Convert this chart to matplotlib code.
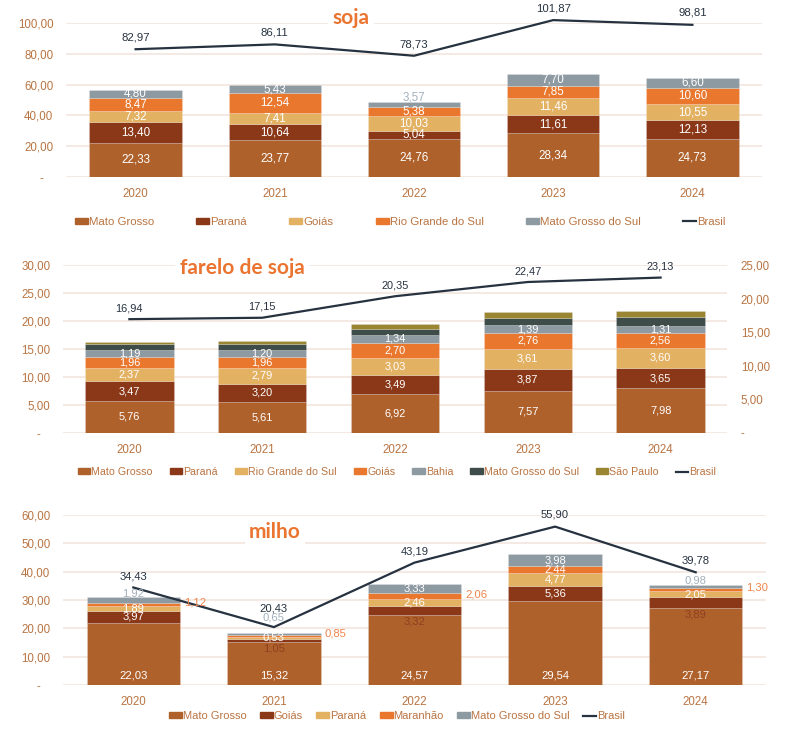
import numpy as np
import matplotlib
matplotlib.use('Agg')
import matplotlib.pyplot as plt
from matplotlib.lines import Line2D
from matplotlib.patches import Patch

plt.rcParams['font.family'] = ['Liberation Sans', 'DejaVu Sans']

years = ['2020', '2021', '2022', '2023', '2024']

# soja
soja_states = ['Mato Grosso', 'Paraná', 'Goiás', 'Rio Grande do Sul', 'Mato Grosso do Sul']
soja_mt = [22.33, 23.77, 24.76, 28.34, 24.73]
soja_pr = [13.40, 10.64, 5.04, 11.61, 12.13]
soja_go = [7.32, 7.41, 10.03, 11.46, 10.55]
soja_rs = [8.47, 12.54, 5.38, 7.85, 10.60]
soja_ms = [4.80, 5.43, 3.57, 7.70, 6.60]
soja_brasil = [82.97, 86.11, 78.73, 101.87, 98.81]

farelo_states = ['Mato Grosso', 'Paraná', 'Rio Grande do Sul', 'Goiás', 'Bahia',
                 'Mato Grosso do Sul', 'São Paulo']
farelo_mt = [5.76, 5.61, 6.92, 7.57, 7.98]
farelo_pr = [3.47, 3.20, 3.49, 3.87, 3.65]
farelo_rs = [2.37, 2.79, 3.03, 3.61, 3.60]
farelo_go = [1.96, 1.96, 2.70, 2.76, 2.56]
farelo_ba = [1.19, 1.20, 1.34, 1.39, 1.31]
farelo_ms = [1.10, 1.05, 1.10, 1.35, 1.65]
farelo_sp = [0.40, 0.55, 0.90, 1.00, 1.10]
farelo_brasil = [16.94, 17.15, 20.35, 22.47, 23.13]

# milho
milho_states = ['Mato Grosso', 'Goiás', 'Paraná', 'Maranhão', 'Mato Grosso do Sul']
milho_mt = [22.03, 15.32, 24.57, 29.54, 27.17]
milho_go = [3.97, 1.05, 3.32, 5.36, 3.89]
milho_pr = [1.89, 0.53, 2.46, 4.77, 2.05]
milho_ma = [1.12, 0.85, 2.06, 2.44, 1.30]
milho_ms = [1.92, 0.65, 3.33, 3.98, 0.98]
milho_brasil = [34.43, 20.43, 43.19, 55.90, 39.78]

# colours
MT = '#AF612B'
DK = '#8A3818'
TAN = '#E3B162'
ORG = '#E9772D'
GRY = '#8E9AA2'
SLT = '#3F4D4A'
OLV = '#9A8532'
NAVY = '#263240'
TXT = '#B97442'
GRID = '#F3E7E0'
TITLE = '#EA7430'

W = 0.665
TICK = 8.3


def fmt(v):
    return f'{v:.2f}'.replace('.', ',')


def yfmt(v, pos):
    return '-   ' if v == 0 else fmt(v)


# label modes: c=centre, i=inside base, b=below base (brown), r=right (orange),
# g/G=above top (grey), n=none
def put_label(ax, xi, b, v, m, fs):
    top = b + v
    kw = dict(textcoords='offset pixels', fontsize=fs, va='center', ha='center',
              zorder=5, annotation_clip=False)
    if m == 'c':
        ax.annotate(fmt(v), (xi, b + v / 2), xytext=(0, 0), color='white', **kw)
    elif m == 'i':
        ax.annotate(fmt(v), (xi, b), xytext=(0, 10), color='white', **kw)
    elif m == 'b':
        ax.annotate(fmt(v), (xi, b), xytext=(0, -6.5), color='#8E4020', **kw)
    elif m == 'r':
        kw['ha'] = 'left'
        ax.annotate(fmt(v), (xi + W / 2, b + v / 2), xytext=(4, 2), color='#F0834A', **kw)
    elif m == 'g':
        ax.annotate(fmt(v), (xi, top), xytext=(0, 4), color='#A3B0BC', **kw)
    elif m == 'G':
        ax.annotate(fmt(v), (xi, top), xytext=(0, 15), color='#A3B0BC', **kw)


def panel(ax, series, colors, modes, ymax, step, fs):
    x = np.arange(len(years))
    bottom = np.zeros(len(years))
    for vals, c, md in zip(series, colors, modes):
        vals = np.array(vals)
        ax.bar(x, vals, W, bottom=bottom, color=c, zorder=2,
               edgecolor=(1, 1, 1, 0.25), linewidth=0.5)
        for i in range(len(x)):
            put_label(ax, x[i], bottom[i], vals[i], md[i], fs)
        bottom += vals
    ax.set_xlim(-0.5, 4.5)
    ax.set_ylim(0, ymax)
    ax.set_yticks(np.arange(0, ymax + 0.01, step))
    ax.yaxis.set_major_formatter(plt.FuncFormatter(yfmt))
    ax.set_xticks(x)
    ax.set_xticklabels(years)
    ax.tick_params(length=0, colors=TXT, labelsize=TICK)
    ax.tick_params(axis='y', pad=9)
    ax.tick_params(axis='x', pad=8)
    ax.grid(axis='y', color=GRID, lw=1.3, zorder=0)
    ax.set_axisbelow(True)
    for s in ax.spines.values():
        s.set_visible(False)


def brasil_line(ax, vals, offs, fs):
    x = np.arange(len(years))
    ax.plot(x, vals, color=NAVY, lw=1.6, zorder=4, clip_on=False)
    for xi, v, o in zip(x, vals, offs):
        ax.annotate(fmt(v), (xi, v), xytext=(0, o), textcoords='offset pixels',
                    ha='center', va='center', fontsize=fs, color=NAVY, zorder=6,
                    annotation_clip=False)


def add_legend(fig, states, colors, cx, cy, cs, fs):
    h = [Patch(color=c) for c in colors] + [Line2D([0], [0], color=NAVY, lw=1.6)]
    fig.legend(h, states + ['Brasil'], loc='center', bbox_to_anchor=(cx, cy),
               ncol=len(h), frameon=False, handlelength=1.15, handleheight=0.45,
               handletextpad=0.1, columnspacing=cs, fontsize=fs, labelcolor=TXT,
               borderaxespad=0, borderpad=0)


fig = plt.figure(figsize=(7.9, 7.39), dpi=100)
FW, FH = 790, 739


def rect(l, r, t, b):
    return [l / FW, 1 - b / FH, (r - l) / FW, (b - t) / FH]


def title(x, y, s):
    fig.text(x / FW, 1 - y / FH, s, ha='center', va='center', fontsize=15,
             fontweight='bold', family='Lato', color=TITLE,
             bbox=dict(fc='white', ec='none', pad=3), zorder=10)


# soja
ax1 = fig.add_axes(rect(66, 762, 23, 177))
panel(ax1, [soja_mt, soja_pr, soja_go, soja_rs, soja_ms],
      [MT, DK, TAN, ORG, GRY],
      ['ccccc', 'ccccc', 'ccccc', 'ccccc', 'ccgcc'], 100, 20, 8.4)
brasil_line(ax1, soja_brasil, [12, 12, 11, 12, 12], 8.2)
add_legend(fig, soja_states, [MT, DK, TAN, ORG, GRY], 400 / FW, 1 - 222 / FH, 3.7, 8.2)
title(351, 18, 'soja')

# farelo de soja
ax2 = fig.add_axes(rect(63, 727, 265, 433))
panel(ax2, [farelo_mt, farelo_pr, farelo_rs, farelo_go, farelo_ba, farelo_ms, farelo_sp],
      [MT, DK, TAN, ORG, GRY, SLT, OLV],
      ['ccccc', 'ccccc', 'ccccc', 'ccccc', 'ccccc', 'nnnnn', 'nnnnn'], 30, 5, 7.9)
ax2r = ax2.twinx()
ax2r.set_ylim(0, 25)
ax2r.set_yticks(np.arange(0, 25.01, 5))
ax2r.yaxis.set_major_formatter(plt.FuncFormatter(lambda v, p: '-' if v == 0 else fmt(v)))
ax2r.tick_params(length=0, colors=TXT, labelsize=TICK, pad=10)
for s in ax2r.spines.values():
    s.set_visible(False)
brasil_line(ax2r, farelo_brasil, [11, 11, 11, 11, 11], 7.9)
add_legend(fig, farelo_states, [MT, DK, TAN, ORG, GRY, SLT, OLV], 397 / FW, 1 - 472 / FH, 1.6, 7.7)
title(242, 268, 'farelo de soja')

# milho
ax3 = fig.add_axes(rect(63, 766, 515, 685))
panel(ax3, [milho_mt, milho_go, milho_pr, milho_ma, milho_ms],
      [MT, DK, TAN, ORG, GRY],
      ['iiiii', 'cbbcb', 'ccccc', 'rrrcr', 'gGccg'], 60, 10, 8.1)
brasil_line(ax3, milho_brasil, [11, 19, 11, 12, 12], 8.1)
add_legend(fig, milho_states, [MT, DK, TAN, ORG, GRY], 397 / FW, 1 - 716 / FH, 1.2, 8.0)
title(275, 532, 'milho')

fig.savefig('out.png', dpi=100, facecolor='white')
